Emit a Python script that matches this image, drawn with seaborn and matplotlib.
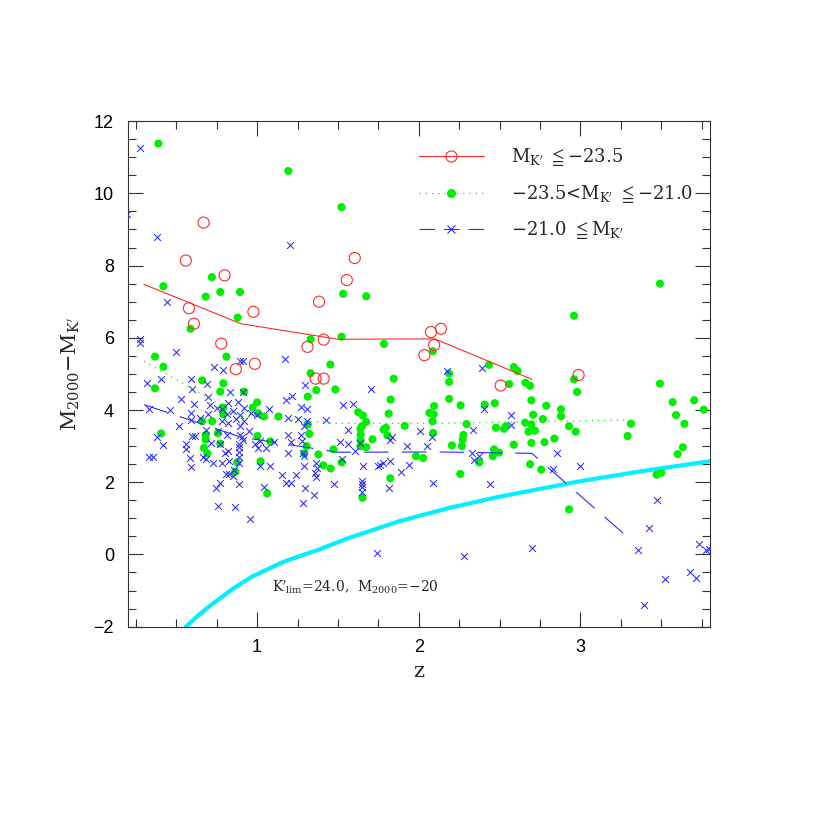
import matplotlib
matplotlib.use("Agg")
import matplotlib.pyplot as plt
from matplotlib.lines import Line2D
from matplotlib.ticker import MultipleLocator
import seaborn as sns

# bright galaxies M_K' <= -23.5 (open red circles)
red_z = [0.669, 0.559, 0.799, 1.604, 1.555, 0.578, 0.609, 0.977, 0.778, 0.868, 0.986,
         1.383, 1.312, 1.412, 1.362, 1.412, 2.076, 2.137, 2.095, 2.035, 2.507, 2.989]
red_y = [9.19, 8.14, 7.73, 8.21, 7.60, 6.82, 6.39, 6.72, 5.84, 5.13, 5.28,
         7.00, 5.75, 5.95, 4.87, 4.87, 6.16, 6.25, 5.80, 5.52, 4.68, 4.97]

# -23.5 < M_K' <= -21.0 (green dots)
green_z = [0.389, 1.193, 0.720, 0.420, 1.522, 3.492, 0.682, 0.772, 0.894, 0.880,
           0.588, 0.810, 0.368, 0.420, 0.368, 0.660, 0.791, 0.772, 0.919, 1.331,
           1.331, 1.366, 1.313, 1.000, 0.973, 0.791, 0.791, 1.006, 1.042, 1.132,
           0.660, 0.722, 1.313, 1.323, 0.406, 0.682, 0.758, 1.002, 0.682, 0.772,
           1.081, 0.671, 1.306,
           1.532, 1.675, 1.522, 1.785, 2.087, 1.453, 1.845, 1.484, 2.188, 2.188,
           2.435, 1.826, 2.188, 2.095, 2.259, 2.470, 1.625, 1.654, 1.814, 2.066,
           2.093, 2.085, 1.675, 1.648, 1.640, 1.797, 1.783, 1.913, 2.296, 2.478,
           1.640, 2.089, 2.276, 1.806, 1.640, 1.714, 2.272, 2.205, 2.267, 1.640,
           1.675, 1.472,
           2.961, 2.588, 2.611, 2.559, 2.660, 2.689, 2.961, 2.980, 3.492, 3.571,
           3.704, 3.764, 3.592, 3.644, 2.408, 2.697, 2.789, 2.880, 2.880, 2.708,
           2.768, 2.658, 2.697, 2.528, 2.539, 2.930, 2.679, 2.719, 2.971, 3.313,
           3.292, 2.839, 2.588, 2.697, 2.778, 2.466, 3.634,
           0.692, 0.876, 0.865, 1.021, 1.062, 1.292, 1.379, 1.410, 1.455, 1.523,
           1.824, 1.652, 1.983, 2.027, 2.257, 2.375, 2.458, 2.497, 2.689, 2.758,
           2.930, 3.602, 3.472, 3.501]
green_y = [11.38, 10.62, 7.68, 7.43, 9.62, 7.50, 7.14, 7.27, 7.27, 6.56,
           6.25, 5.48, 5.48, 5.20, 4.60, 4.82, 4.74, 4.51, 4.51, 5.96,
           5.02, 4.55, 4.37, 4.21, 4.07, 4.07, 3.88, 3.91, 3.82, 3.82,
           3.69, 3.69, 3.60, 3.34, 3.35, 3.31, 3.36, 3.28, 3.18, 3.07,
           3.13, 2.95, 3.00,
           7.22, 7.15, 6.03, 5.83, 5.63, 5.26, 4.87, 4.57, 5.01, 4.78,
           5.25, 4.29, 4.31, 4.11, 4.13, 4.19, 3.94, 3.85, 3.90, 3.92,
           3.88, 3.69, 3.67, 3.55, 3.48, 3.51, 3.46, 3.56, 3.61, 3.51,
           3.32, 3.37, 3.31, 3.30, 3.16, 3.19, 3.18, 3.02, 3.00, 3.00,
           2.97, 2.91,
           6.61, 5.19, 5.08, 4.72, 4.76, 4.67, 4.85, 4.50, 4.73, 4.22,
           4.27, 4.01, 3.86, 3.62, 4.15, 4.27, 4.12, 4.02, 3.83, 3.87,
           3.75, 3.65, 3.60, 3.48, 3.55, 3.55, 3.40, 3.43, 3.40, 3.62,
           3.28, 3.21, 3.04, 3.09, 3.11, 2.91, 2.97,
           2.80, 2.55, 2.29, 2.58, 1.69, 2.80, 2.77, 2.47, 2.38, 2.55,
           2.11, 1.57, 2.72, 2.67, 2.23, 2.55, 2.72, 2.82, 2.50, 2.35,
           1.25, 2.78, 2.21, 2.26]

# -21.0 <= M_K' (blue crosses)
blue_z = [0.278, 0.193, 0.379, 1.203, 0.441, 0.278, 0.278, 0.501, 0.731, 0.791, 0.892, 0.915, 1.172,
          0.408, 0.317, 0.588, 0.600, 0.692, 0.834, 0.915, 0.528, 0.611, 0.698,
          0.706, 0.822, 1.176, 1.217, 1.296, 1.271, 0.329, 0.458, 0.588, 0.754,
          0.919, 1.073, 0.517, 0.592, 0.694, 0.814, 0.870, 0.894, 1.193, 1.255,
          1.309, 0.379, 0.596, 0.617, 0.812, 0.894, 0.907, 0.950, 1.017, 1.193,
          1.271, 0.418, 0.559, 0.712, 0.886, 0.986, 1.209,
          0.648, 0.783, 0.783, 0.682, 0.760, 0.557, 0.772, 0.329, 0.358, 0.582,
          0.665, 0.685, 0.727, 0.785, 0.804, 0.590, 0.806, 0.768, 0.745, 0.760,
          0.884, 0.961, 0.853, 0.998, 0.818, 0.921, 1.429, 0.894, 0.911, 1.006,
          1.052, 1.107, 0.890, 0.890, 0.886, 0.818, 1.191, 1.280, 1.288, 0.824,
          0.890, 1.019, 1.081, 1.292, 1.366, 1.371, 1.360, 1.366, 0.859, 0.828,
          0.849, 1.151, 1.242, 0.890, 1.180, 1.211, 1.294, 1.350, 1.042, 0.863,
          1.284, 0.958,
          1.704, 1.534, 1.596, 1.565, 2.006, 1.513, 1.565, 1.604, 1.832, 1.824,
          1.925, 2.054, 2.079, 1.526, 1.654, 1.747, 1.762, 1.778, 1.824, 1.938,
          1.893, 1.474, 1.650, 1.650, 1.650, 1.650, 1.816, 2.089,
          1.743, 2.278, 2.327, 2.342, 2.439, 1.286, 1.638, 2.373, 2.855, 2.828,
          2.998, 2.700, 3.472, 3.422, 3.354, 3.733, 3.776, 3.797, 3.681, 3.714,
          3.524, 3.391, 1.311, 1.292, 2.176, 2.389, 2.405, 2.337, 2.569, 2.569]
blue_y = [11.25, 9.44, 8.78, 8.58, 7.00, 5.98, 5.86, 5.62, 5.18, 5.10, 5.37, 5.35, 5.42,
          4.87, 4.76, 4.87, 4.58, 4.72, 4.51, 4.51, 4.31, 4.18, 4.37,
          4.13, 4.20, 4.27, 4.40, 4.70, 4.09, 4.03, 4.00, 3.92, 4.05,
          4.05, 4.03, 3.56, 3.73, 3.89, 3.88, 3.74, 3.85, 3.77, 3.74,
          3.70, 3.26, 3.28, 3.28, 3.30, 3.30, 3.26, 3.41, 3.14, 3.31,
          3.31, 3.04, 3.05, 3.09, 3.07, 3.05, 3.11,
          3.79, 4.02, 3.69, 3.46, 3.43, 2.91, 3.05, 2.70, 2.70, 2.66,
          2.70, 2.65, 2.54, 2.54, 2.82, 2.43, 2.24, 1.98, 1.84, 1.33,
          4.23, 3.92, 3.97, 3.85, 3.65, 3.69, 3.72, 3.57, 3.18, 2.94,
          2.96, 3.12, 2.98, 2.84, 2.70, 2.86, 2.82, 3.15, 2.74, 2.60,
          2.52, 2.44, 2.44, 2.44, 2.54, 2.40, 2.26, 2.15, 2.35, 2.23,
          2.17, 2.19, 2.21, 1.94, 1.97, 1.97, 1.84, 1.66, 1.87, 1.31,
          1.43, 0.99,
          4.59, 4.13, 4.18, 3.44, 3.43, 3.12, 3.07, 2.86, 3.25, 3.16,
          2.99, 3.01, 3.26, 2.63, 2.46, 2.44, 2.49, 2.54, 2.58, 2.47,
          2.28, 1.96, 2.03, 1.94, 1.87, 1.72, 1.83, 1.98,
          0.04, -0.03, 2.80, 2.61, 1.94, 2.82, 3.09, 2.72, 2.82, 2.38,
          2.44, 0.19, 1.52, 0.72, 0.13, 0.29, 0.11, 0.16, -0.50, -0.65,
          -0.69, -1.41, 4.03, 3.57, 5.08, 5.16, 4.02, 3.45, 3.85, 3.58]

# binned means per class
red_bin_z = [0.3, 0.9, 1.5, 2.1, 2.7]
red_bin_y = [7.48, 6.39, 5.96, 5.97, 4.85]
green_bin_z = [0.3, 0.9, 1.5, 2.1, 2.7, 3.3]
green_bin_y = [5.35, 3.83, 3.63, 3.63, 3.68, 3.72]
blue_bin_z = [0.3, 0.9, 1.5, 2.1, 2.7, 3.3]
blue_bin_y = [4.15, 3.25, 2.83, 2.84, 2.80, 0.45]

# detection limit curve (K'lim=24.0, M2000=-20)
limit_z = [0.56, 0.62, 0.70, 0.76, 0.85, 0.97, 1.17, 1.38, 1.57, 1.88, 2.19, 2.50, 3.00, 3.40, 3.80]
limit_y = [-2.00, -1.75, -1.45, -1.25, -0.95, -0.61, -0.19, 0.13, 0.46, 0.92, 1.29, 1.60, 2.03, 2.32, 2.58]

labels = [r"M$_{\mathrm{K'}}$ $\leqq$−23.5",
          r"−23.5<M$_{\mathrm{K'}}$ $\leqq$−21.0",
          r"−21.0 $\leqq$M$_{\mathrm{K'}}$"]

RED, GREEN, BLUE, CYAN = "#ff2a2a", "#00ee00", "#2a2aff", "#00f0ff"

sns.set_style("ticks")
plt.rcParams["font.family"] = ["Liberation Sans", "DejaVu Sans"]
plt.rcParams["mathtext.fontset"] = "dejavuserif"
serif = ["DejaVu Serif", "DejaVu Sans"]

fig = plt.figure(figsize=(8.3, 8.3), dpi=100)
ax = fig.add_axes([0.154, 0.245, 0.701, 0.609])

sns.lineplot(x=limit_z, y=limit_y, ax=ax, color=CYAN, lw=3, sort=False)
sns.scatterplot(x=green_z, y=green_y, ax=ax, color=GREEN, s=34, edgecolor="none", zorder=3)
sns.scatterplot(x=blue_z, y=blue_y, ax=ax, color=BLUE, marker="x", s=24, linewidth=0.75, zorder=4)
sns.scatterplot(x=red_z, y=red_y, ax=ax, facecolor="none", edgecolor=RED, s=64, linewidth=0.8, zorder=5)

sns.lineplot(x=red_bin_z, y=red_bin_y, ax=ax, color=RED, lw=0.8, zorder=6)
sns.lineplot(x=green_bin_z, y=green_bin_y, ax=ax, color=GREEN, lw=0.9,
             linestyle=(0, (1, 4)), zorder=6)
sns.lineplot(x=blue_bin_z, y=blue_bin_y, ax=ax, color=BLUE, lw=0.8,
             linestyle=(0, (22, 12)), zorder=6)

ax.set_xlim(0.2, 3.8)
ax.set_ylim(-2, 12)
ax.xaxis.set_major_locator(MultipleLocator(1))
ax.xaxis.set_minor_locator(MultipleLocator(0.25))
ax.yaxis.set_major_locator(MultipleLocator(2))
ax.yaxis.set_minor_locator(MultipleLocator(0.5))
ax.tick_params(which="both", direction="in", top=True, right=True, width=0.8, colors="#333333")
ax.tick_params(which="major", length=11, labelsize=13, labelcolor="black")
ax.tick_params(which="minor", length=5.5)
ax.tick_params(axis="x", pad=9)
ax.tick_params(axis="y", pad=10)
for sp in ax.spines.values():
    sp.set_color("#333333")
    sp.set_linewidth(0.8)

ax.set_xlabel(r"$\mathrm{z}$", fontsize=15, labelpad=4)
ax.set_ylabel(r"M$_{2000}$−M$_{\mathrm{K'}}$", fontsize=15, labelpad=8, family=serif)

ax.text(1.09, -0.92, r"$\mathrm{K'_{lim}}$=24.0,  M$_{2000}$=−20",
        fontsize=10, va="center", family=serif)

handles = [
    Line2D([], [], color=RED, lw=0.8, marker="o", mfc="none", mec=RED, ms=8, mew=0.8),
    Line2D([], [], color=GREEN, lw=0.9, ls=(0, (1, 4)), marker="o", mfc=GREEN, mec="none", ms=6.5),
    Line2D([], [], color=BLUE, lw=0.8, ls=(0, (14, 8)), marker="x", ms=6, mew=0.8),
]
ax.legend(handles, labels, loc="upper left", bbox_to_anchor=(0.5, 0.95), frameon=False,
          prop={"family": serif, "size": 13}, handlelength=3.6, handletextpad=1.5,
          labelspacing=0.8, borderpad=0, borderaxespad=0)

fig.savefig("out.png", dpi=100)
